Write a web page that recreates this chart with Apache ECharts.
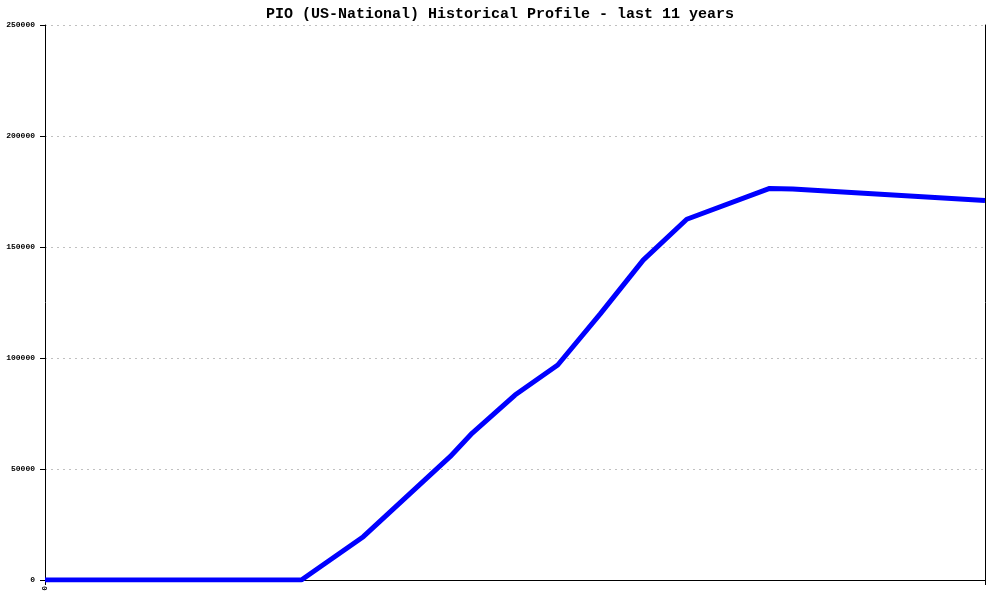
<!DOCTYPE html>
<html>
<head>
<meta charset="utf-8">
<script src="https://cdn.jsdelivr.net/npm/echarts@6/dist/echarts.min.js"></script>
<style>html,body{margin:0;padding:0;background:#fff;}#c{width:1000px;height:600px;}</style>
</head>
<body>
<div id="c"></div>
<script>
var titleText = 'PIO (US-National) Historical Profile - last 11 years';
var xYears = [0, 3, 3.725, 4.74, 5.0, 5.5, 6.0, 6.5, 7.0, 7.51, 8.48, 8.75, 11];
var yValues = [0, 0, 19500, 55550, 66200, 83300, 96850, 120000, 144100, 162500, 176400, 176100, 170900];
var yTicks = [0, 50000, 100000, 150000, 200000, 250000];

var data = xYears.map(function (x, i) { return [x, yValues[i]]; });
var chart = echarts.init(document.getElementById('c'), null, {renderer: 'canvas'});
var mono = 'Liberation Mono, DejaVu Sans Mono, monospace';
chart.setOption({
  animation: false,
  backgroundColor: '#ffffff',
  title: {
    text: titleText, left: 'center', top: 2,
    textStyle: {fontFamily: mono, fontSize: 15, fontWeight: 'bold', color: '#000'}
  },
  grid: {left: 45, right: 15, top: 25, bottom: 20, containLabel: false},
  xAxis: {
    type: 'value', min: 0, max: 11, interval: 11,
    axisLine: {show: true, lineStyle: {color: '#000', width: 1}},
    axisTick: {show: true, length: 5, lineStyle: {color: '#000'}},
    splitLine: {show: false},
    axisLabel: {
      rotate: 90, margin: 6, fontFamily: mono, fontSize: 8, fontWeight: 'bold', color: '#000',
      formatter: function (v) { return v === 0 ? '0' : ''; }
    }
  },
  yAxis: [{
    type: 'value', min: yTicks[0], max: yTicks[yTicks.length - 1], interval: 50000,
    axisLine: {show: true, lineStyle: {color: '#000', width: 1}},
    axisTick: {show: true, length: 5, lineStyle: {color: '#000'}},
    splitLine: {show: true, lineStyle: {color: '#c0c0c0', type: [2, 4], width: 1}},
    axisLabel: {
      margin: 10, fontFamily: mono, fontSize: 8, fontWeight: 'bold', color: '#000',
      formatter: function (v) { return String(v); }
    }
  }, {
    type: 'value', position: 'right', min: 0, max: 250000, interval: 50000,
    axisLine: {show: true, lineStyle: {color: '#000', width: 1}},
    axisTick: {show: false}, axisLabel: {show: false}, splitLine: {show: false}
  }],
  series: [{
    type: 'line', data: data, yAxisIndex: 0,
    showSymbol: false, symbol: 'none',
    lineStyle: {color: '#0000ff', width: 5},
    itemStyle: {color: '#0000ff'}
  }]
});
</script>
</body>
</html>
